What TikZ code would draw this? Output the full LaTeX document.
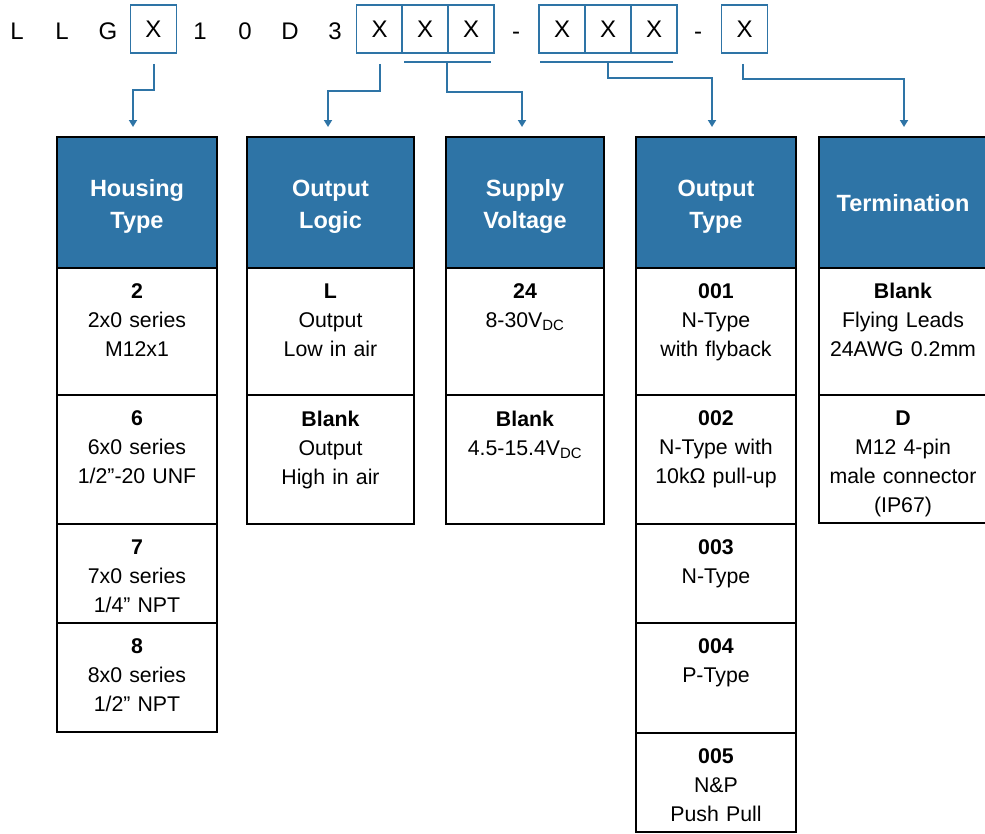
\documentclass[tikz,border=0pt]{standalone}
\usepackage{fontspec}
\setmainfont{Liberation Sans}
\usetikzlibrary{arrows.meta}
\definecolor{hblue}{RGB}{46,116,166}

\begin{document}
\begin{tikzpicture}[x=1pt,y=-1pt,
	chr/.style={font=\fontsize{24}{28}\selectfont, inner sep=0pt, anchor=base},
	cell/.style={draw=hblue, line width=1.8pt, minimum width=46pt, minimum height=48pt, inner sep=0pt, font=\fontsize{24}{28}\selectfont},
	head/.style={draw=black, fill=hblue, line width=2pt, minimum height=131pt, inner sep=0pt, outer sep=0pt, anchor=north west},
	htxt/.style={anchor=center, yshift=-4pt, align=center, inner sep=0pt, text=white, font=\fontsize{23.5}{32}\selectfont\bfseries},
	opt/.style={draw=black, line width=2pt, inner sep=0pt, outer sep=0pt, anchor=north west},
	txt/.style={anchor=north, yshift=-15.5pt, align=center, text width=170pt, inner sep=0pt, font=\fontsize{21.3}{29}\selectfont},
	bar/.style={draw=hblue, line width=2pt},
	link/.style={bar, -{Triangle[length=7pt,width=8pt]}, shorten >=10pt}]
	\useasboundingbox (0,0) rectangle (985,833);
	% part number
	\node[chr] (l1) at (17,39) {L};
	\node[chr] (l2) at (62,39) {L};
	\node[chr] (g) at (108,39) {G};
	\node[cell] (hx) at (153.5,29) {X};
	\node[chr] (n1) at (200,39) {1};
	\node[chr] (n0) at (245,39) {0};
	\node[chr] (d) at (290,39) {D};
	\node[chr] (n3) at (335,39) {3};
	\node[cell] (lx) at (379.5,29) {X};
	\node[cell] (sx1) at (425,29) {X};
	\node[cell] (sx2) at (471,29) {X};
	\node[chr] (dash1) at (516,39) {-};
	\node[cell] (ox1) at (562,29) {X};
	\node[cell] (ox2) at (608,29) {X};
	\node[cell] (ox3) at (654,29) {X};
	\node[chr] (dash2) at (698,39) {-};
	\node[cell] (tx) at (744.5,29) {X};
	% headers
	\node[head, minimum width=160pt, label={[htxt]center:{Housing\\Type}}] (housing) at (57,137) {};
	\node[head, minimum width=167pt, label={[htxt]center:{Output\\Logic}}] (logic) at (247,137) {};
	\node[head, minimum width=158pt, label={[htxt]center:{Supply\\Voltage}}] (supply) at (446,137) {};
	\node[head, minimum width=160pt, label={[htxt]center:{Output\\Type}}] (otype) at (636,137) {};
	\node[head, minimum width=168pt, label={[htxt,yshift=3pt]center:{Termination}}] (term) at (819,137) {};
	% housing type
	\node[opt, minimum width=160pt, minimum height=127pt, label={[txt]north:{\textbf{2}\\2x0 series\\M12x1}}] (h2) at (57,268) {};
	\node[opt, minimum width=160pt, minimum height=129pt, label={[txt]north:{\textbf{6}\\6x0 series\\1/2”-20 UNF}}] (h6) at (57,395) {};
	\node[opt, minimum width=160pt, minimum height=99pt, label={[txt]north:{\textbf{7}\\7x0 series\\1/4” NPT}}] (h7) at (57,524) {};
	\node[opt, minimum width=160pt, minimum height=109pt, label={[txt]north:{\textbf{8}\\8x0 series\\1/2” NPT}}] (h8) at (57,623) {};
	% output logic
	\node[opt, minimum width=167pt, minimum height=127pt, label={[txt]north:{\textbf{L}\\Output\\Low in air}}] (lL) at (247,268) {};
	\node[opt, minimum width=167pt, minimum height=129pt, label={[txt]north:{\textbf{Blank}\\Output\\High in air}}] (lB) at (247,395) {};
	% supply voltage
	\node[opt, minimum width=158pt, minimum height=127pt, label={[txt]north:{\textbf{24}\\8-30V\textsubscript{DC}}}] (s24) at (446,268) {};
	\node[opt, minimum width=158pt, minimum height=129pt, label={[txt]north:{\textbf{Blank}\\4.5-15.4V\textsubscript{DC}}}] (sB) at (446,395) {};
	% output type
	\node[opt, minimum width=160pt, minimum height=127pt, label={[txt]north:{\textbf{001}\\N-Type\\with flyback}}] (o1) at (636,268) {};
	\node[opt, minimum width=160pt, minimum height=129pt, label={[txt]north:{\textbf{002}\\N-Type with\\10kΩ pull-up}}] (o2) at (636,395) {};
	\node[opt, minimum width=160pt, minimum height=99pt, label={[txt]north:{\textbf{003}\\N-Type}}] (o3) at (636,524) {};
	\node[opt, minimum width=160pt, minimum height=110pt, label={[txt]north:{\textbf{004}\\P-Type}}] (o4) at (636,623) {};
	\node[opt, minimum width=160pt, minimum height=99pt, label={[txt]north:{\textbf{005}\\N\&P\\Push Pull}}] (o5) at (636,733) {};
	% termination
	\node[opt, minimum width=168pt, minimum height=127pt, label={[txt,yshift=1pt]north:{\textbf{Blank}\\Flying Leads\\24AWG 0.2mm}}] (tB) at (819,268) {};
	\node[opt, minimum width=168pt, minimum height=128pt, label={[txt]north:{\textbf{D}\\M12 4-pin\\male connector\\(IP67)}}] (tD) at (819,395) {};
	% connectors
	\draw[link] ([yshift=-10pt]hx.south) -- ++(0,26) -| ([xshift=-4pt]housing.north);
	\draw[link] ([yshift=-10pt]lx.south) -- ++(0,27) -| ([xshift=-2.5pt]logic.north);
	\draw[bar] ([xshift=3pt,yshift=-8pt]sx1.south west) -- ([xshift=-4pt,yshift=-8pt]sx2.south east);
	\draw[link] ([xshift=-1.5pt,yshift=-8pt]sx1.south east) -- ++(0,30) -| ([xshift=-3pt]supply.north);
	\draw[bar] ([xshift=2pt,yshift=-8pt]ox1.south west) -- ([xshift=-5pt,yshift=-8pt]ox3.south east);
	\draw[link] ([yshift=-8pt]ox2.south) -- ++(0,16) -| ([xshift=-4pt]otype.north);
	\draw[link] ([xshift=-1.5pt,yshift=-10pt]tx.south) -- ++(0,15) -| ([xshift=1pt]term.north);
\end{tikzpicture}
\end{document}
